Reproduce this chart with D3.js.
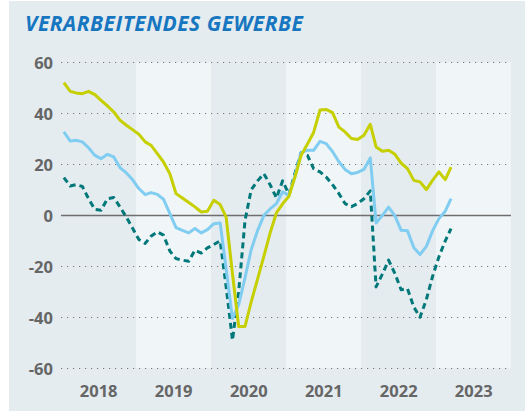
<!DOCTYPE html>
<html>
<head>
<meta charset="utf-8">
<script src="https://cdn.jsdelivr.net/npm/d3@7"></script>
<style>
  html, body { margin: 0; padding: 0; background: #ffffff; }
  svg { display: block; }
</style>
</head>
<body>
<svg id="chart" width="525" height="411"></svg>
<script>
// Monthly readings, January 2018 to March 2023
const startYear = 2018;
const years = [2018, 2019, 2020, 2021, 2022, 2023];
const yTicks = [60, 40, 20, 0, -20, -40, -60];

// Solid yellow-green series
const seriesYellow = [
  52, 48.6, 48, 47.7, 48.6, 47.3, 45.1, 42.9, 40.5, 37.3, 35.3, 33.6,
  31.8, 28.8, 27.5, 24.2, 20.9, 16.3, 8.5, 6.8, 5, 3.3, 1.3, 1.6,
  5.9, 4.2, -0.7, -23, -43.6, -43.6, -34, -25, -16, -7, 1, 4.5,
  7.5, 15.5, 23.5, 28, 32.5, 41.3, 41.5, 40.3, 34.6, 32.7, 30.1, 29.7,
  31.4, 35.7, 26.8, 25.1, 25.5, 23.9, 20.5, 18.3, 13.7, 13.1, 10.1, 13.7,
  17, 14, 18.9
];

// Solid light-blue series
const seriesBlue = [
  32.7, 29.1, 29.4, 28.8, 26.5, 23.5, 22.2, 23.9, 22.9, 18.7, 16.6, 14,
  10.5, 8.1, 8.9, 8.2, 6.3, 0.7, -4.8, -5.9, -6.9, -5.2, -6.9, -5.6,
  -3.3, -3, -21, -40.5, -35, -24.5, -13.5, -6, 0, 2.5, 4.6, 9.2,
  7.8, 16, 24.6, 25.5, 25.5, 29, 28.1, 25, 21, 18, 16.3, 16.8,
  18, 22.5, -3, 0, 3.2, -0.2, -5.9, -6.1, -12.7, -15.4, -12.2, -6.1,
  -1.3, 1.6, 6.5
];

// Dashed teal series
const seriesTeal = [
  14.8, 11.5, 12, 11.3, 6.5, 2.3, 2, 6.5, 7, 3.3, -0.7, -5,
  -9.5, -11, -8.2, -6.5, -7.8, -14, -17, -17.6, -18, -13.7, -14.8, -12.8,
  -11.5, -10, -28, -49, -30, -2, 10, 13.5, 16.3, 12, 6.8, 13.5,
  8.2, 17, 24.6, 23.5, 18.3, 17, 15, 12, 8.5, 4.6, 3.4, 4.6,
  6.5, 9.6, -28.1, -23, -17.6, -22.9, -29.2, -28.8, -36, -40, -33, -24,
  -16.3, -10, -5.2
];

const W = 525, H = 411;
const plot = { left: 61, right: 511, top: 62.3, bottom: 368.3 };

const svg = d3.select("#chart");

// panel background
svg.append("rect")
  .attr("x", 9).attr("y", 1)
  .attr("width", W - 9).attr("height", H - 1)
  .attr("fill", "#e4ecf0");

const x = d3.scaleTime()
  .domain([new Date(startYear, 0, 1), new Date(years[years.length - 1] + 1, 0, 1)])
  .range([plot.left, plot.right]);

const y = d3.scaleLinear()
  .domain([-60, 60])
  .range([plot.bottom, plot.top]);

// alternating year bands
svg.append("g")
  .selectAll("rect")
  .data(years)
  .join("rect")
  .attr("x", d => x(new Date(d, 0, 1)))
  .attr("y", plot.top)
  .attr("width", d => x(new Date(d + 1, 0, 1)) - x(new Date(d, 0, 1)))
  .attr("height", plot.bottom - plot.top)
  .attr("fill", (d, i) => i % 2 === 1 ? "#f0f6f7" : "#e4ecf0");

// horizontal grid lines (dotted), zero line solid
const grid = svg.append("g");
grid.selectAll("line")
  .data(yTicks)
  .join("line")
  .attr("x1", plot.left)
  .attr("x2", plot.right)
  .attr("y1", d => Math.round(y(d)) + 0.5)
  .attr("y2", d => Math.round(y(d)) + 0.5)
  .attr("stroke", d => d === 0 ? "#6e6e6e" : "#777")
  .attr("stroke-width", d => d === 0 ? 1.6 : 1.2)
  .attr("stroke-dasharray", d => d === 0 ? null : "1.2,4.8");

// y axis labels
const yAxis = d3.axisLeft(y).tickValues(yTicks).tickSize(0).tickPadding(0)
  .tickFormat(d => d3.format("d")(d).replace("−", "-"));
const gy = svg.append("g")
  .attr("transform", `translate(${plot.left - 8},0)`)
  .call(yAxis);
gy.select(".domain").remove();
gy.selectAll("text")
  .attr("fill", "#666")
  .attr("font-family", "'Open Sans', 'DejaVu Sans', sans-serif")
  .attr("font-weight", 700)
  .attr("font-size", 16.5)
  .attr("dy", "0.36em");

// x axis year labels centred in each band
const midYear = d => new Date(d, 6, 1);
const xAxis = d3.axisBottom(x)
  .tickValues(years.map(midYear))
  .tickSize(0).tickPadding(0)
  .tickFormat(d3.timeFormat("%Y"));
const gx = svg.append("g")
  .attr("transform", `translate(0,${plot.bottom + 17})`)
  .call(xAxis);
gx.select(".domain").remove();
gx.selectAll("text")
  .attr("fill", "#666")
  .attr("font-family", "'Open Sans', 'DejaVu Sans', sans-serif")
  .attr("font-weight", 700)
  .attr("font-size", 16.5)
  .attr("dy", "0.71em");

// month position: middle of each month
const monthDate = i => new Date(startYear, i, 15);

const line = d3.line()
  .x((d, i) => x(monthDate(i)))
  .y(d => y(d))
  .curve(d3.curveLinear);

const seriesList = [
  { data: seriesTeal, color: "#00787a", dash: "6,4" },
  { data: seriesBlue, color: "#80cdf1", dash: null },
  { data: seriesYellow, color: "#c6cf00", dash: null }
];

svg.append("g")
  .selectAll("path")
  .data(seriesList)
  .join("path")
  .attr("d", d => line(d.data))
  .attr("fill", "none")
  .attr("stroke", d => d.color)
  .attr("stroke-width", 3)
  .attr("stroke-linejoin", "round")
  .attr("stroke-dasharray", d => d.dash);

// title
svg.append("text")
  .attr("x", 25)
  .attr("y", 31)
  .attr("fill", "#1776c0")
  .attr("font-family", "'Open Sans', 'DejaVu Sans', sans-serif")
  .attr("font-weight", 700)
  .attr("font-style", "italic")
  .attr("font-size", 21)
  .attr("letter-spacing", 0.5)
  .text("VERARBEITENDES GEWERBE");
</script>
</body>
</html>
